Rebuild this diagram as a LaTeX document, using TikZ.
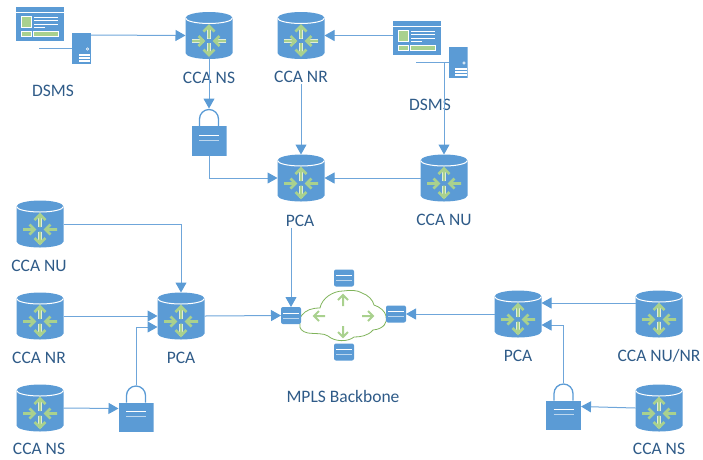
\documentclass[tikz,border=0pt]{standalone}
\usepackage{fontspec}
\setmainfont{Carlito}
\usetikzlibrary{arrows.meta}
\definecolor{iconblue}{HTML}{5B9BD5}
\definecolor{lineblue}{HTML}{6FA6DA}
\definecolor{leafgreen}{HTML}{A9D18E}
\definecolor{cloudgreen}{HTML}{7FB35A}
\definecolor{labelblue}{HTML}{2F5B88}
\newcommand{\greenarrow}[4]{%
  \draw[white,line width=3.6pt] (#1) -- (#2);
  \draw[leafgreen,line width=2.6pt] (#1) -- (#2) (#3) -- (#2) -- (#4);}
\tikzset{
  conn/.style={draw=lineblue,line width=1pt,-{Triangle[length=10pt,width=11pt,color=iconblue]}},
  plainconn/.style={draw=lineblue,line width=1pt},
  lbl/.style={text=labelblue,font=\fontsize{17.5}{20}\selectfont,inner sep=1pt},
  routerbox/.style={inner sep=0pt,outer sep=0pt,minimum width=47pt,minimum height=47pt,
    path picture={
      \fill[iconblue] (-23.5,-17.5) arc[start angle=180,end angle=360,x radius=23.5,y radius=6]
        -- (23.5,17.5) arc[start angle=0,end angle=180,x radius=23.5,y radius=6] -- cycle;
      \draw[white,line width=1pt] (-23.5,-17.5) arc[start angle=180,end angle=0,x radius=23.5,y radius=5.5];
      \greenarrow{0,3}{0,-9.5}{-5.5,-4}{5.5,-4}
      \greenarrow{0,7.5}{0,19.5}{-5.5,14}{5.5,14}
      \greenarrow{-17,5.5}{-5.5,5.5}{-10.5,0.5}{-10.5,10.5}
      \greenarrow{17,5.5}{5.5,5.5}{10.5,0.5}{10.5,10.5}
    }},
  lockbox/.style={inner sep=0pt,outer sep=0pt,minimum width=35pt,minimum height=47pt,
    path picture={
      \fill[iconblue] (-17.5,-6) rectangle (17.5,23.5);
      \draw[iconblue,line width=1.3pt] (-9.5,-6) -- (-9.5,-13) arc[start angle=180,end angle=360,radius=9.5] -- (9.5,-6);
      \draw[white,line width=0.8pt] (-10,3) -- (10,3);
      \draw[white,opacity=.6,line width=0.8pt] (-10,8) -- (10,8);
    }},
  screenbox/.style={inner sep=0pt,outer sep=0pt,minimum width=48pt,minimum height=34pt,
    path picture={
      \fill[iconblue] (-24,-17) rectangle (24,17);
      \draw[white,line width=.7pt] (-24,-11.5) -- (24,-11.5);
      \fill[leafgreen,draw=white] (-19,-7.5) rectangle (-9,3.5);
      \fill[leafgreen,draw=white] (-19,7) rectangle (-9,12);
      \fill[leafgreen,draw=white] (-6.5,7) rectangle (18,12);
      \foreach \yy/\xx in {-7/18,-3.5/18,0/18,3.5/5} {\draw[white,line width=.7pt] (-6,\yy) -- (\xx,\yy);}
    }},
  serverbox/.style={inner sep=0pt,outer sep=0pt,minimum width=19pt,minimum height=31pt,
    path picture={
      \fill[iconblue] (-9.5,-15.5) rectangle (9.5,15.5);
      \draw[white,line width=.6pt] (6,0.5) circle[radius=1.2];
      \foreach \yy in {5.5,8.5,11.5} {\fill[white] (-3,\yy) rectangle (8.5,\yy+2);}
    }},
  platebox/.style={fill=iconblue,rounded corners=2pt,inner sep=0pt,outer sep=0pt,minimum width=20pt,minimum height=17pt,
    path picture={
      \draw[white,line width=.8pt] (-8,-2.5) -- (8,-2.5);
      \draw[white,opacity=.6,line width=.8pt] (-8,2.5) -- (8,2.5);
    }},
  cloudbox/.style={inner sep=0pt,outer sep=0pt,minimum width=92pt,minimum height=56pt,
    path picture={
      \draw[cloudgreen,line width=.8pt] (-42,-1) .. controls (-38,-6) and (-32,-8) .. (-24,-8)
        .. controls (-22,-18) and (-11,-25) .. (-1,-25) .. controls (6,-26) and (14,-26) .. (18,-23)
        .. controls (24,-21) and (29,-16) .. (30,-11) .. controls (36,-9) and (41,-5) .. (42,0)
        .. controls (44,6) and (40,13) .. (29,14) .. controls (24,20) and (16,21) .. (10,21)
        .. controls (4,26) and (-9,26) .. (-16,20) .. controls (-20,17) and (-28,18) .. (-36,17)
        .. controls (-42,16) and (-45,12) .. (-44,9) .. controls (-45,5) and (-44,1) .. (-42,-1) -- cycle;
      \draw[leafgreen,line width=2pt] (-1,-10) -- (-1,-21) (-6,-16) -- (-1,-21) -- (4,-16);
      \draw[leafgreen,line width=2pt] (-1,10) -- (-1,21) (-6,16) -- (-1,21) -- (4,16);
      \draw[leafgreen,line width=2pt] (-19,0) -- (-30,0) (-25,-5) -- (-30,0) -- (-25,5);
      \draw[leafgreen,line width=2pt] (18,0) -- (29,0) (24,-5) -- (29,0) -- (24,5);
    }}
}
\begin{document}
\begin{tikzpicture}[x=1pt,y=-1pt]
\useasboundingbox (0,0) rectangle (703,459);

\node[screenbox] (scrL) at (40,24) {};
\node[serverbox] (srvL) at (81.5,48.5) {};
\node[screenbox] (scrR) at (417,38) {};
\node[serverbox] (srvR) at (458,62.5) {};
\coordinate (stubL) at (39,48.5);
\coordinate (stubR) at (416,62.5);
\coordinate (tapR) at (444,62.5);

\node[routerbox] (ccaNS) at (209,35.5) {};
\node[routerbox] (ccaNR) at (301,35.5) {};
\node[routerbox] (pcaT) at (301,178) {};
\node[routerbox] (ccaNU) at (444,178) {};

\node[routerbox] (ccaNUl) at (40,224) {};
\node[routerbox] (ccaNRl) at (40,316) {};
\node[routerbox] (ccaNSl) at (40,408) {};
\node[routerbox] (pcaL) at (181,316) {};

\node[routerbox] (pcaR) at (518,314) {};
\node[routerbox] (ccaNUNR) at (659,314) {};
\node[routerbox] (ccaNSr) at (659,408) {};

\node[lockbox] (lockT) at (209,132) {};
\node[lockbox] (lockL) at (136,408.5) {};
\node[lockbox] (lockR) at (563.5,406.5) {};

\node[cloudbox] (mpls) at (344,316) {};
\node[platebox] (plateL) at (291,315.5) {};
\node[platebox] (plateR) at (396,314) {};
\node[platebox] (plateT) at (344,278) {};
\node[platebox] (plateB) at (344,352) {};

\node[lbl] (lblDSMSl) at (53,91) {DSMS};
\node[lbl] (lblNS) at (209,78) {CCA NS};
\node[lbl] (lblNR) at (301,77) {CCA NR};
\node[lbl] (lblDSMSr) at (430,105) {DSMS};
\node[lbl] (lblPCAt) at (300,221) {PCA};
\node[lbl] (lblNU) at (444,220) {CCA NU};
\node[lbl] (lblNUl) at (39,266) {CCA NU};
\node[lbl] (lblNRl) at (39,358) {CCA NR};
\node[lbl] (lblNSl) at (39,449) {CCA NS};
\node[lbl] (lblPCAl) at (181,358) {PCA};
\node[lbl] (lblPCAr) at (518,356) {PCA};
\node[lbl] (lblNUNR) at (659,356) {CCA NU/NR};
\node[lbl] (lblNSr) at (659,449) {CCA NS};
\node[lbl] (lblMPLS) at (343,396) {MPLS Backbone};

\draw[plainconn] (stubL) -- (srvL.west);
\draw[plainconn] (stubR) -- (srvR.west);
\draw[conn] ([yshift=13.5pt]srvL.east) -- (ccaNS.west);
\draw[conn] ([yshift=2.5pt]scrR.west) -- (ccaNR.east);
\draw[conn] (tapR) -- (ccaNU.north);

\draw[conn] (ccaNS.south) -- (lockT.north);
\draw[conn] (lockT.south) |- (pcaT.west);
\draw[conn] (lblNR.south) -- (pcaT.north);
\draw[conn] (ccaNU.west) -- (pcaT.east);
\draw[conn] (plateL |- lblPCAt.south) -- (plateL.north);

\draw[conn] (ccaNUl.east) -| (pcaL.north);
\draw[conn] (ccaNRl.east) -- (pcaL.west);
\draw[conn] (ccaNSl.east) -- (lockL.west);
\draw[conn] (lockL.north) |- ([yshift=-11pt]pcaL.west);
\draw[conn] (pcaL.east) -- (plateL.west);

\draw[conn] (pcaR.west) -- (plateR.east);
\draw[conn] ([yshift=11pt]ccaNUNR.west) -- ([yshift=11pt]pcaR.east);
\draw[conn] (ccaNSr.west) -- (lockR.east);
\draw[conn] (lockR.north) |- ([yshift=-11pt]pcaR.east);
\end{tikzpicture}
\end{document}
